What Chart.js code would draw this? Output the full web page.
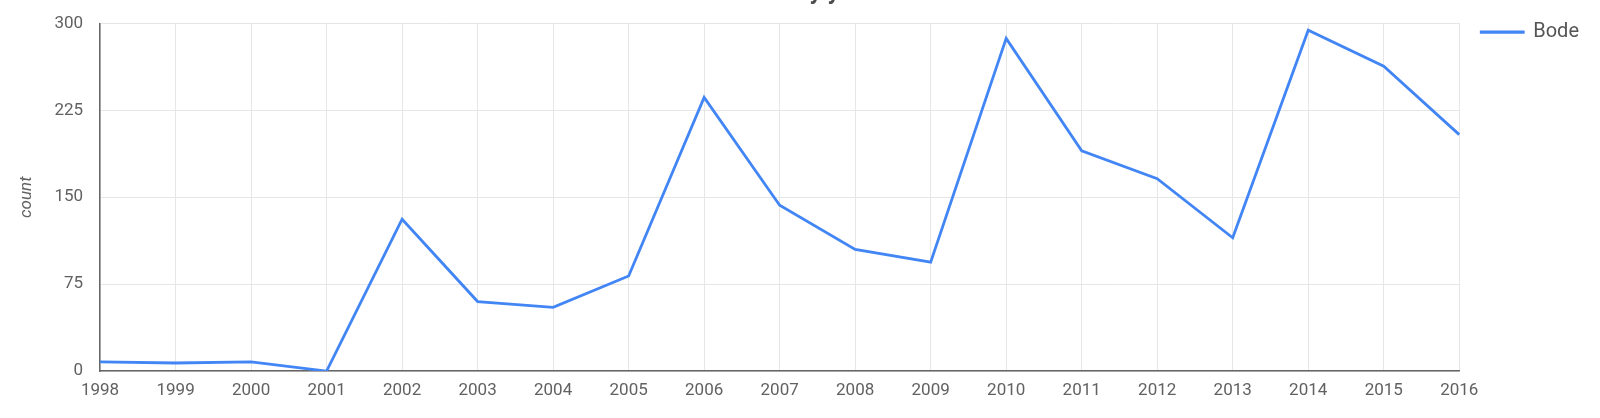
<!DOCTYPE html>
<html>
<head>
<meta charset="utf-8">
<script src="https://cdn.jsdelivr.net/npm/chart.js@4"></script>
<style>
  html, body { margin: 0; padding: 0; background: #fff; overflow: hidden; }
  #wrap { position: absolute; left: 0; top: -21px; width: 1600px; height: 439px; }
</style>
</head>
<body>
<div id="wrap"><canvas id="grafico"></canvas></div>
<script>
// datos
const years = ['1998', '1999', '2000', '2001', '2002', '2003', '2004', '2005', '2006', '2007',
               '2008', '2009', '2010', '2011', '2012', '2013', '2014', '2015', '2016'];
const bodeCounts = [8, 7, 8, 0, 131, 60, 55, 82, 236, 143, 105, 94, 287, 190, 166, 115, 294, 263, 204];
const yTicks = [0, 75, 150, 225, 300];

const grey = '#616161';
const gridGrey = '#e6e6e6';
const blue = '#4285f4';

Chart.defaults.font.family = 'Roboto, "Noto Sans", sans-serif';
Chart.defaults.color = grey;

new Chart(document.getElementById('grafico'), {
    type: 'line',
    data: {
        labels: years,
        datasets: [{
            label: 'Bode',
            data: bodeCounts,
            borderColor: blue,
            backgroundColor: blue,
            borderWidth: 2.8,
            pointRadius: 0,
            pointHoverRadius: 0,
            tension: 0,
            fill: false
        }]
    },
    options: {
        responsive: true,
        maintainAspectRatio: false,
        animation: false,
        layout: { padding: { left: 11, right: 11, top: 0, bottom: 8.5 } },
        plugins: {
            title: {
                display: true,
                text: 'Count by year',
                color: '#4d4d4d',
                font: { size: 24, weight: 'bold' },
                padding: { top: 0, bottom: 15.5 }
            },
            legend: {
                position: 'right',
                align: 'start',
                // titulo vacio solo para bajar la leyenda
                title: { display: true, text: '', font: { size: 1 }, padding: { top: 0, bottom: 20 } },
                labels: {
                    boxWidth: 42,
                    boxHeight: 0.5,
                    color: '#555',
                    font: { size: 20 },
                    padding: 22
                }
            },
            tooltip: { enabled: false }
        },
        scales: {
            x: {
                grid: { color: gridGrey, lineWidth: 1, drawTicks: false },
                border: { color: '#666', width: 1.5 },
                ticks: { font: { size: 17 }, color: grey, padding: 9, maxRotation: 0, autoSkip: false }
            },
            y: {
                min: 0,
                max: 300,
                afterBuildTicks: scale => { scale.ticks = yTicks.map(v => ({ value: v })); },
                grid: { color: gridGrey, lineWidth: 1, drawTicks: false },
                border: { color: '#666', width: 1.5 },
                ticks: { font: { size: 17 }, color: grey, padding: 17 },
                title: {
                    display: true,
                    text: 'count',
                    color: grey,
                    font: { size: 17, style: 'italic' },
                    padding: { top: 6, bottom: 0 }
                }
            }
        }
    }
});
</script>
</body>
</html>
